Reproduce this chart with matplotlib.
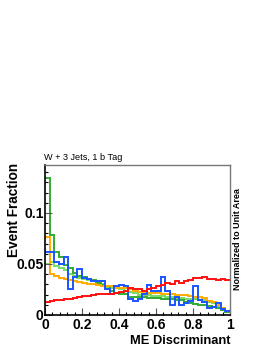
import numpy as np
import matplotlib
matplotlib.use("Agg")
import matplotlib.pyplot as plt
from matplotlib.ticker import MultipleLocator, FixedLocator

# 40 bins on [0, 1]
edges = np.linspace(0.0, 1.0, 41)

blue = [0.062, 0.062, 0.052, 0.050, 0.057, 0.025, 0.037, 0.045, 0.036, 0.035,
        0.033, 0.033, 0.033, 0.025, 0.021, 0.028, 0.029, 0.028, 0.016, 0.014,
        0.016, 0.021, 0.029, 0.024, 0.024, 0.037, 0.024, 0.010, 0.018, 0.010,
        0.012, 0.014, 0.028, 0.015, 0.013, 0.007, 0.008, 0.012, 0.006, 0.004]
dark_green = [0.134, 0.078, 0.062, 0.057, 0.049, 0.046, 0.041, 0.038, 0.037, 0.035,
              0.034, 0.031, 0.029, 0.028, 0.024, 0.022, 0.021, 0.021, 0.018, 0.018,
              0.018, 0.018, 0.017, 0.017, 0.017, 0.016, 0.016, 0.016, 0.015, 0.015,
              0.013, 0.012, 0.011, 0.010, 0.010, 0.009, 0.008, 0.007, 0.005, 0.003]
light_green = [0.050, 0.052, 0.048, 0.046, 0.044, 0.040, 0.038, 0.036, 0.035, 0.034,
               0.033, 0.032, 0.030, 0.027, 0.026, 0.026, 0.025, 0.024, 0.023, 0.022,
               0.020, 0.020, 0.020, 0.019, 0.019, 0.019, 0.018, 0.018, 0.017, 0.017,
               0.016, 0.016, 0.016, 0.015, 0.015, 0.013, 0.012, 0.009, 0.007, 0.004]
orange = [0.076, 0.040, 0.038, 0.036, 0.035, 0.034, 0.033, 0.032, 0.031, 0.030,
          0.030, 0.029, 0.028, 0.028, 0.028, 0.026, 0.026, 0.026, 0.025, 0.024,
          0.023, 0.023, 0.022, 0.022, 0.022, 0.021, 0.021, 0.021, 0.020, 0.020,
          0.020, 0.019, 0.018, 0.018, 0.017, 0.014, 0.013, 0.010, 0.007, 0.004]
red = [0.013, 0.014, 0.015, 0.015, 0.016, 0.016, 0.017, 0.018, 0.019, 0.019,
       0.020, 0.021, 0.021, 0.021, 0.021, 0.022, 0.023, 0.024, 0.026, 0.025,
       0.025, 0.024, 0.025, 0.026, 0.028, 0.029, 0.031, 0.030, 0.033, 0.031,
       0.033, 0.034, 0.036, 0.036, 0.037, 0.035, 0.035, 0.034, 0.035, 0.034]

series = [
    (light_green, "#77dd66"),
    (dark_green, "#33aa33"),
    (orange, "#ffaa00"),
    (blue, "#1a55ff"),
    (red, "#ff1010"),
]

x_ticks = [0, 0.2, 0.4, 0.6, 0.8, 1.0]
x_tick_labels = ["0", "0.2", "0.4", "0.6", "0.8", "1"]
y_ticks = [0, 0.05, 0.1]
y_tick_labels = ["0", "0.05", "0.1"]

plt.rcParams["font.family"] = ["Liberation Sans", "DejaVu Sans"]

fig = plt.figure(figsize=(2.70, 3.49), dpi=100)
ax = fig.add_axes([45 / 270, 1 - 315 / 349, 185 / 270, 150 / 349])

for vals, col in series:
    ax.stairs(vals, edges, color=col, linewidth=1.4, baseline=None)

ax.set_xlim(0, 1)
ax.set_ylim(0, 0.147)

ax.xaxis.set_major_locator(FixedLocator(x_ticks))
ax.set_xticklabels(x_tick_labels)
ax.xaxis.set_minor_locator(MultipleLocator(0.04))
ax.yaxis.set_major_locator(FixedLocator(y_ticks))
ax.set_yticklabels(y_tick_labels)
ax.yaxis.set_minor_locator(MultipleLocator(0.01))

ax.tick_params(which="both", direction="in", top=False, right=False,
               labelsize=10, width=0.8)
ax.tick_params(axis="x", which="major", pad=2)
ax.tick_params(axis="y", which="major", pad=1)
ax.tick_params(which="major", length=5, color="#555555")
ax.tick_params(which="minor", length=2.5, color="black")
for lab in ax.get_xticklabels() + ax.get_yticklabels():
    lab.set_fontweight("bold")

for side in ("left", "bottom"):
    ax.spines[side].set_linewidth(1.2)
    ax.spines[side].set_color("black")
for side in ("top", "right"):
    ax.spines[side].set_linewidth(1.0)
    ax.spines[side].set_color("#777777")

ax.set_xlabel("ME Discriminant", fontsize=9.3, fontweight="bold",
              ha="right", x=1.0, labelpad=2)

# axis title placed by hand, as ROOT puts it flush with the frame top
fig.text(14 / 270, 1 - 163 / 349, "Event Fraction", fontsize=9.8,
         fontweight="bold", rotation=90, ha="center", va="top")
fig.text(44 / 270, 1 - 158 / 349, "W + 3 Jets, 1 b Tag", fontsize=6.6,
         ha="left", va="center")
fig.text(238 / 270, 1 - 239 / 349, "Normalized to Unit Area", fontsize=6.5,
         fontweight="bold", rotation=90, ha="center", va="center")

fig.savefig("out.png", dpi=100)
